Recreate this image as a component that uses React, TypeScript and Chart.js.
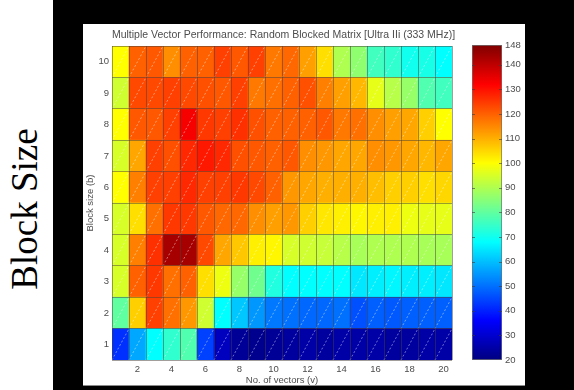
import React, { useEffect, useRef } from 'react';
import { Chart, registerables } from 'chart.js';

Chart.register(...registerables);

// ---- data ----
const vectors = [1, 2, 3, 4, 5, 6, 7, 8, 9, 10, 11, 12, 13, 14, 15, 16, 17, 18, 19, 20];
const blockSizes = [1, 2, 3, 4, 5, 6, 7, 8, 9, 10];
const xTickValues = [2, 4, 6, 8, 10, 12, 14, 16, 18, 20];

const perf_b1 = [42, 57, 68, 74, 78, 44, 28, 23, 22, 23, 24, 25, 24, 25, 25, 25, 24, 24, 25, 25];
const perf_b2 = [80, 106, 124, 118, 113, 94, 68, 61, 55, 51, 50, 49, 49, 50, 46, 48, 47, 48, 48, 48];
const perf_b3 = [95, 120, 125, 118, 120, 104, 98, 87, 82, 72, 68, 68, 68, 68, 65, 66, 67, 66, 66, 65];
const perf_b4 = [95, 116, 126, 143, 143, 123, 111, 107, 102, 101, 95, 94, 93, 91, 89, 90, 90, 90, 89, 89];
const perf_b5 = [95, 104, 118, 125, 125, 121, 119, 119, 114, 112, 113, 106, 103, 102, 101, 102, 102, 98, 97, 97];
const perf_b6 = [100, 116, 124, 124, 127, 124, 124, 125, 123, 120, 113, 111, 110, 110, 110, 108, 106, 106, 104, 105];
const perf_b7 = [95, 111, 124, 122, 127, 129, 127, 122, 121, 120, 121, 114, 113, 111, 111, 114, 113, 111, 109, 111];
const perf_b8 = [100, 121, 121, 124, 133, 125, 124, 126, 122, 120, 120, 120, 121, 117, 118, 114, 112, 111, 106, 100];
const perf_b9 = [94, 123, 123, 124, 123, 122, 121, 124, 117, 118, 120, 122, 116, 112, 109, 97, 91, 87, 78, 76];
const perf_b10 = [100, 120, 121, 114, 120, 120, 124, 121, 124, 117, 119, 112, 104, 90, 86, 76, 74, 70, 71, 68];

const perfRows = [perf_b1, perf_b2, perf_b3, perf_b4, perf_b5, perf_b6, perf_b7, perf_b8, perf_b9, perf_b10];

const colorMin = 20;
const colorMax = 148;
const colorbarTicks = [20, 30, 40, 50, 60, 70, 80, 90, 100, 110, 120, 130, 140, 148];

const chartTitle = 'Multiple Vector Performance: Random Blocked Matrix [Ultra IIi (333 MHz)]';
const xTitle = 'No. of vectors (v)';
const yTitle = 'Block size (b)';
const sideLabel = 'Block Size';

// ---- style ----
const textColor = '#4d4d4d';
const fontFamily = '"Liberation Sans", Arial, sans-serif';
const gridColor = 'rgba(70,62,55,0.5)';

function clamp(v: number, a: number, b: number) {
  return Math.max(a, Math.min(b, v));
}

function jetRGB(t: number): [number, number, number] {
  const r = clamp(Math.min(4 * t - 1.5, -4 * t + 4.5), 0, 1);
  const g = clamp(Math.min(4 * t - 0.5, -4 * t + 3.5), 0, 1);
  const b = clamp(Math.min(4 * t + 0.5, -4 * t + 2.5), 0, 1);
  return [r, g, b];
}

function jet(v: number) {
  const t = clamp((v - colorMin) / (colorMax - colorMin), 0, 1);
  const [r, g, b] = jetRGB(t);
  return `rgb(${Math.round(r * 255)},${Math.round(g * 255)},${Math.round(b * 255)})`;
}

const hatchPlugin = {
  id: 'hatch',
  afterDatasetsDraw(chart: any) {
    const { ctx, chartArea } = chart;
    ctx.save();
    ctx.beginPath();
    ctx.rect(chartArea.left, chartArea.top, chartArea.right - chartArea.left, chartArea.bottom - chartArea.top);
    ctx.clip();
    ctx.strokeStyle = 'rgba(255,255,255,0.55)';
    ctx.lineWidth = 0.8;
    ctx.setLineDash([2, 2]);
    chart.data.datasets.forEach((_ds: any, i: number) => {
      const meta = chart.getDatasetMeta(i);
      meta.data.forEach((bar: any) => {
        const { x, y, base, width } = bar.getProps(['x', 'y', 'base', 'width'], true);
        ctx.beginPath();
        ctx.moveTo(x - width / 2, base);
        ctx.lineTo(x + width / 2, y);
        ctx.stroke();
      });
    });
    ctx.restore();
  },
};

const titlePlugin = {
  id: 'heatTitle',
  afterDraw(chart: any) {
    const { ctx, chartArea } = chart;
    ctx.save();
    ctx.font = `10.5px ${fontFamily}`;
    ctx.fillStyle = textColor;
    ctx.textAlign = 'center';
    ctx.textBaseline = 'middle';
    ctx.fillText(chartTitle, (chartArea.left + chartArea.right) / 2 + 1.5, chartArea.top - 11);
    ctx.restore();
  },
};

const colorbarTickPlugin = {
  id: 'cbTicks',
  afterDatasetsDraw(chart: any) {
    const { ctx, chartArea, scales } = chart;
    ctx.save();
    ctx.strokeStyle = 'rgba(60,60,60,0.6)';
    ctx.lineWidth = 1;
    colorbarTicks.forEach((v) => {
      if (v === colorMin || v === colorMax) return;
      const y = Math.round(scales.y.getPixelForValue(v)) + 0.5;
      ctx.beginPath();
      ctx.moveTo(chartArea.left, y);
      ctx.lineTo(chartArea.left + 3, y);
      ctx.moveTo(chartArea.right - 3, y);
      ctx.lineTo(chartArea.right, y);
      ctx.stroke();
    });
    ctx.restore();
  },
};

export default function App() {
  const mainRef = useRef<HTMLCanvasElement>(null);
  const barRef = useRef<HTMLCanvasElement>(null);

  useEffect(() => {
    const tickFont = { family: fontFamily, size: 9.5 };
    const datasets = blockSizes.map((b, i) => ({
      label: `b = ${b}`,
      data: perfRows[i].map(() => [b - 0.5, b + 0.5]),
      backgroundColor: perfRows[i].map(jet),
      borderWidth: 0,
      barPercentage: 1,
      categoryPercentage: 1,
      grouped: false,
    }));

    const main = new Chart(mainRef.current as HTMLCanvasElement, {
      type: 'bar',
      data: { labels: vectors.map(String), datasets: datasets as any },
      options: {
        responsive: false,
        animation: false,
        layout: { padding: { left: 0, top: 22, right: 73, bottom: 0 } },
        plugins: {
          legend: { display: false },
          tooltip: { enabled: false },
          title: { display: false },
        },
        scales: {
          x: {
            type: 'category',
            grid: { offset: true, color: gridColor, lineWidth: 1, drawTicks: false, z: 1 },
            border: { display: false },
            ticks: {
              autoSkip: false,
              maxRotation: 0,
              padding: 4,
              color: textColor,
              font: tickFont,
              callback: (_v: any, idx: number) =>
                xTickValues.includes(vectors[idx]) ? String(vectors[idx]) : '',
            },
            title: { display: true, text: xTitle, padding: 0, color: textColor, font: tickFont },
            afterFit: (s: any) => {
              s.height = 26;
            },
          },
          y: {
            type: 'linear',
            min: 0.5,
            max: 10.5,
            afterBuildTicks: (s: any) => {
              s.ticks = blockSizes.map((v) => ({ value: v }));
            },
            grid: { display: false, drawTicks: false },
            border: { display: false },
            ticks: { padding: 3, color: textColor, font: tickFont },
            title: { display: true, text: yTitle, padding: { top: 2, bottom: 0 }, color: textColor, font: tickFont },
            afterFit: (s: any) => {
              s.width = 29;
            },
          },
          yb: {
            type: 'linear',
            position: 'left',
            min: 0.5,
            max: 10.5,
            afterBuildTicks: (s: any) => {
              s.ticks = [0, ...blockSizes].map((v) => ({ value: v + 0.5 }));
            },
            grid: { color: gridColor, lineWidth: 1, drawTicks: false, z: 1 },
            border: { display: false },
            ticks: { display: false },
            afterFit: (s: any) => {
              s.width = 0;
            },
          },
        },
      } as any,
      plugins: [hatchPlugin, titlePlugin],
    });

    const cbar = new Chart(barRef.current as HTMLCanvasElement, {
      type: 'bar',
      data: {
        labels: [''],
        datasets: [
          {
            data: [[colorMin, colorMax]] as any,
            backgroundColor: (ctx: any) => {
              const chart = ctx.chart;
              const { chartArea, scales } = chart;
              if (!chartArea || !scales.y) return 'transparent';
              const y0 = scales.y.getPixelForValue(colorMin);
              const y1 = scales.y.getPixelForValue(colorMax);
              const g = chart.ctx.createLinearGradient(0, y0, 0, y1);
              for (let i = 0; i <= 32; i++) {
                const t = i / 32;
                const [r, gg, b] = jetRGB(t);
                g.addColorStop(t, `rgb(${Math.round(r * 255)},${Math.round(gg * 255)},${Math.round(b * 255)})`);
              }
              return g;
            },
            borderColor: '#707070',
            borderWidth: 1,
            borderSkipped: false,
            barPercentage: 1,
            categoryPercentage: 1,
          } as any,
        ],
      },
      options: {
        responsive: false,
        animation: false,
        layout: { padding: { left: 10, top: 15, bottom: 15, right: 0 } },
        plugins: { legend: { display: false }, tooltip: { enabled: false } },
        scales: {
          x: { display: false },
          y: {
            position: 'right',
            min: colorMin,
            max: colorMax,
            afterBuildTicks: (s: any) => {
              s.ticks = colorbarTicks.map((v) => ({ value: v }));
            },
            grid: { display: false, drawTicks: false },
            border: { display: false },
            ticks: { padding: 3, color: textColor, font: tickFont },
            afterFit: (s: any) => {
              s.width = 23;
            },
          },
        },
      } as any,
      plugins: [colorbarTickPlugin],
    });

    return () => {
      main.destroy();
      cbar.destroy();
    };
  }, []);

  return (
    <div
      style={{
        position: 'absolute',
        left: 0,
        top: 0,
        width: 574,
        height: 390,
        background: '#ffffff',
        overflow: 'hidden',
      }}
    >
      <div
        style={{
          position: 'absolute',
          left: 24,
          top: 209,
          transform: 'translate(-50%, -50%) rotate(-90deg)',
          whiteSpace: 'nowrap',
          fontFamily: '"Liberation Serif", "Times New Roman", serif',
          fontSize: 37,
          lineHeight: 1,
          color: '#000',
        }}
      >
        {sideLabel}
      </div>
      <div style={{ position: 'absolute', left: 53, top: 0, width: 521, height: 390, background: '#000' }} />
      <div
        style={{
          position: 'absolute',
          left: 83,
          top: 24,
          width: 442,
          height: 362,
          background: '#fff',
          borderBottom: '1px solid #8a8a8a',
          boxSizing: 'border-box',
        }}
      />
      <canvas
        ref={mainRef}
        width={442}
        height={362}
        style={{ position: 'absolute', left: 83, top: 24 }}
      />
      <canvas
        ref={barRef}
        width={63}
        height={345}
        style={{ position: 'absolute', left: 462, top: 30 }}
      />
    </div>
  );
}
